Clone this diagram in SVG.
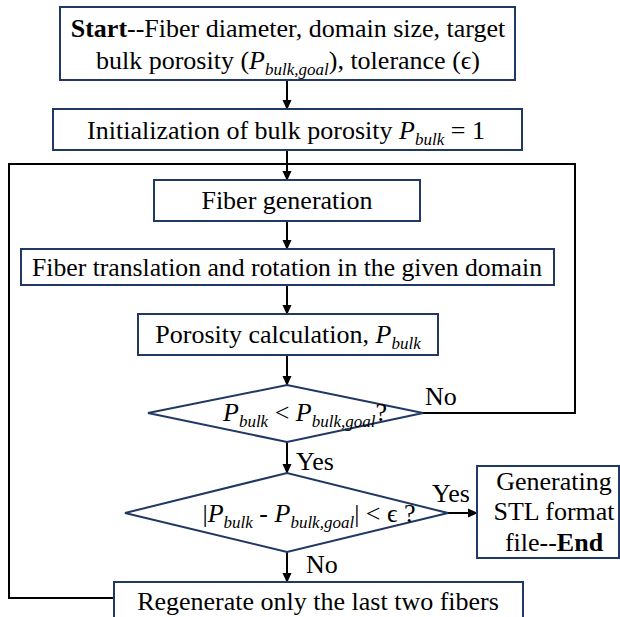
<svg xmlns="http://www.w3.org/2000/svg" width="620" height="617" viewBox="0 0 620 617">
<style>
.box{fill:#fff;stroke:#203864;stroke-width:2}
.ln{fill:none;stroke:#000;stroke-width:2}
.c{text-anchor:middle}
.i{font-style:italic}
.s{font-size:17px;font-style:italic}
.b{font-weight:bold}
</style>
<defs>
<marker id="ah" markerUnits="userSpaceOnUse" markerWidth="10" markerHeight="10" refX="9" refY="5" orient="auto">
<path d="M0,0.5 L10,5 L0,9.5 Z" fill="#000"/>
</marker>
</defs>
<rect width="620" height="617" fill="#fff"/>
<g font-family="Liberation Serif, Times New Roman, serif" font-size="26" fill="#000">
<g id="connectors">
<line class="ln" x1="287" y1="80" x2="287" y2="109" marker-end="url(#ah)"/>
<line class="ln" x1="287" y1="150" x2="287" y2="180" marker-end="url(#ah)"/>
<line class="ln" x1="287" y1="221" x2="287" y2="249" marker-end="url(#ah)"/>
<line class="ln" x1="287" y1="285" x2="287" y2="314" marker-end="url(#ah)"/>
<line class="ln" x1="287" y1="355" x2="287" y2="385" marker-end="url(#ah)"/>
<line class="ln" x1="287" y1="442" x2="287" y2="473" marker-end="url(#ah)"/>
<line class="ln" x1="287" y1="552" x2="287" y2="582" marker-end="url(#ah)"/>
<line class="ln" x1="448" y1="513" x2="477" y2="513" marker-end="url(#ah)"/>
<polyline class="ln" points="423,413 575,413 575,164 287,164"/>
<polyline class="ln" points="114,598 9,598 9,164 287,164"/>
<text x="425" y="405">No</text>
<text x="296" y="470">Yes</text>
<text x="432" y="502">Yes</text>
<text x="306" y="573">No</text>
</g>
<g id="start">
<rect class="box" x="60" y="7" width="455" height="73"/>
<text class="c" x="288" y="37"><tspan class="b">Start</tspan>--Fiber diameter, domain size, target</text>
<text class="c" x="288" y="69">bulk porosity (<tspan class="i">P</tspan><tspan class="s" dy="6">bulk,goal</tspan><tspan dy="-6">), tolerance (ϵ)</tspan></text>
</g>
<g id="init">
<rect class="box" x="53" y="109" width="469" height="41"/>
<text class="c" x="286" y="139">Initialization of bulk porosity <tspan class="i">P</tspan><tspan class="s" dy="6">bulk</tspan><tspan dy="-6"> = 1</tspan></text>
</g>
<g id="gen">
<rect class="box" x="154" y="180" width="266" height="41"/>
<text class="c" x="287" y="209">Fiber generation</text>
</g>
<g id="trans">
<rect class="box" x="21" y="249" width="533" height="36"/>
<text class="c" x="287" y="276" textLength="510" lengthAdjust="spacingAndGlyphs">Fiber translation and rotation in the given domain</text>
</g>
<g id="poros">
<rect class="box" x="138" y="314" width="300" height="41"/>
<text class="c" x="288" y="343">Porosity calculation, <tspan class="i">P</tspan><tspan class="s" dy="6">bulk</tspan></text>
</g>
<g id="check1">
<polygon class="box" points="148,413 287,385 423,413 287,442"/>
<text class="c" x="305" y="421"><tspan class="i">P</tspan><tspan class="s" dy="6">bulk</tspan><tspan dy="-6"> &lt; </tspan><tspan class="i">P</tspan><tspan class="s" dy="6">bulk,goal</tspan><tspan dy="-6">?</tspan></text>
</g>
<g id="check2">
<polygon class="box" points="125,513 287,473 448,513 287,552"/>
<text class="c" x="309" y="522">|<tspan class="i">P</tspan><tspan class="s" dy="6">bulk</tspan><tspan dy="-6"> - </tspan><tspan class="i">P</tspan><tspan class="s" dy="6">bulk,goal</tspan><tspan dy="-6">| &lt; ϵ ?</tspan></text>
</g>
<g id="end">
<rect class="box" x="477" y="466" width="142" height="92"/>
<text class="c" x="554" y="490">Generating</text>
<text class="c" x="554" y="520">STL format</text>
<text class="c" x="554" y="551">file--<tspan class="b">End</tspan></text>
</g>
<g id="regen">
<rect class="box" x="114" y="582" width="409" height="50"/>
<text class="c" x="318" y="610">Regenerate only the last two fibers</text>
</g>
</g>
</svg>
